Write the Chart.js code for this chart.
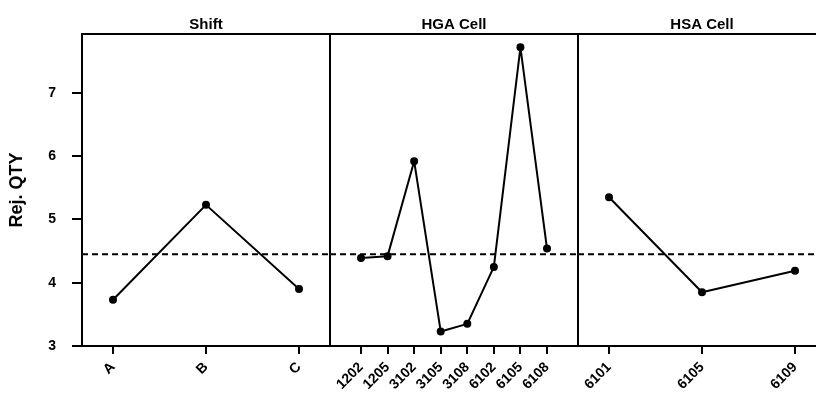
<!DOCTYPE html>
<html>
<head>
<meta charset="utf-8">
<script src="https://cdn.jsdelivr.net/npm/chart.js@4"></script>
<style>
  html, body { margin: 0; padding: 0; background: #fff; overflow: hidden; }
  #wrap { position: relative; width: 816px; height: 393px; overflow: hidden; }
  canvas { position: absolute; top: 0; }
</style>
</head>
<body>
<div id="wrap">
  <canvas id="shiftChart" style="left:0px"></canvas>
  <canvas id="hgaChart" style="left:320px"></canvas>
  <canvas id="hsaChart" style="left:568px"></canvas>
</div>
<script>
// Main effects for Rej. QTY (data means)
const shiftLabels = ["A", "B", "C"];
const shiftMeans = [3.73, 5.23, 3.90];

const hgaLabels = ["1202", "1205", "3102", "3105", "3108", "6102", "6105", "6108"];
const hgaMeans = [4.39, 4.42, 5.92, 3.23, 3.35, 4.25, 7.72, 4.54];

const hsaLabels = ["6101", "6105", "6109"];
const hsaMeans = [5.35, 3.85, 4.19];

const grandMean = 4.45;
const yTicks = [3, 4, 5, 6, 7];

const FONT = "'Liberation Sans', Arial, sans-serif";

// Draws the panel frame, the dashed grand mean line and the panel title
const panelPlugin = {
  id: "panel",
  beforeDatasetsDraw(chart, args, opts) {
    const { ctx, chartArea } = chart;
    const y = chart.scales.y.getPixelForValue(grandMean);
    ctx.save();
    ctx.strokeStyle = "#000";
    ctx.lineWidth = 2;
    ctx.setLineDash([6, 4]);
    ctx.beginPath();
    ctx.moveTo(chartArea.left, y);
    ctx.lineTo(chartArea.right, y);
    ctx.stroke();
    ctx.restore();
  },
  afterDraw(chart, args, opts) {
    const { ctx, chartArea } = chart;
    ctx.save();
    ctx.strokeStyle = "#000";
    ctx.lineWidth = 2;
    ctx.strokeRect(chartArea.left, chartArea.top, chartArea.right - chartArea.left, chartArea.bottom - chartArea.top);
    ctx.fillStyle = "#000";
    ctx.font = "bold 15px " + FONT;
    ctx.textAlign = "center";
    ctx.textBaseline = "alphabetic";
    ctx.fillText(opts.title, (chartArea.left + chartArea.right) / 2, chartArea.top - 5);
    ctx.restore();
  },
};

function makePanel(canvasId, width, labels, means, title, showY, padLeft, padRight) {
  const canvas = document.getElementById(canvasId);
  canvas.width = width;
  canvas.height = 393;
  // same margin (in pixels) either side of the first and last level
  const margin = (labels.length - 1) / 6;
  return new Chart(canvas.getContext("2d"), {
    type: "line",
    data: {
      datasets: [{
        data: means.map((v, i) => ({ x: i, y: v })),
        borderColor: "#000",
        backgroundColor: "#000",
        borderWidth: 2,
        borderJoinStyle: "round", // no miter spike on the sharp peaks
        pointRadius: 3,
        pointHoverRadius: 3,
        tension: 0,
      }],
    },
    options: {
      responsive: false, // fixed pixel layout
      animation: false,
      layout: { padding: { left: padLeft, right: padRight, top: 34, bottom: 0 } },
      plugins: {
        legend: { display: false },
        tooltip: { enabled: false },
        panel: { title: title },
      },
      scales: {
        x: {
          type: "linear",
          min: -margin,
          max: labels.length - 1 + margin,
          afterBuildTicks: (scale) => {
            scale.ticks = labels.map((_, i) => ({ value: i }));
          },
          afterFit: (scale) => { scale.height = 47; },
          border: { display: false },
          grid: {
            drawOnChartArea: false,
            drawTicks: true,
            tickLength: 8,
            lineWidth: 2,
            color: "#000",
          },
          ticks: {
            autoSkip: false,
            maxRotation: 45,
            minRotation: 45,
            padding: 5,
            color: "#000",
            font: { family: FONT, size: 14, weight: "bold" },
            callback: (value) => labels[value],
          },
        },
        y: {
          display: showY,
          min: 3,
          max: 7.93,
          afterBuildTicks: (scale) => {
            scale.ticks = yTicks.map(v => ({ value: v }));
          },
          afterFit: (scale) => { scale.width = showY ? 82 : 0; },
          border: { display: false },
          grid: {
            drawOnChartArea: false,
            drawTicks: true,
            tickLength: 10,
            lineWidth: 2,
            color: "#000",
          },
          ticks: {
            padding: 16,
            color: "#000",
            font: { family: FONT, size: 14, weight: "bold" },
          },
          title: {
            display: true,
            text: "Rej. QTY",
            color: "#000",
            font: { family: FONT, size: 18, weight: "bold" },
            padding: { top: 6, bottom: 0 },
          },
        },
      },
    },
    plugins: [panelPlugin],
  });
}

makePanel("shiftChart", 340, shiftLabels, shiftMeans, "Shift", true, 0, 10);
makePanel("hgaChart", 270, hgaLabels, hgaMeans, "HGA Cell", false, 10, 12);
makePanel("hsaChart", 270, hsaLabels, hsaMeans, "HSA Cell", false, 10, 12);
</script>
</body>
</html>
